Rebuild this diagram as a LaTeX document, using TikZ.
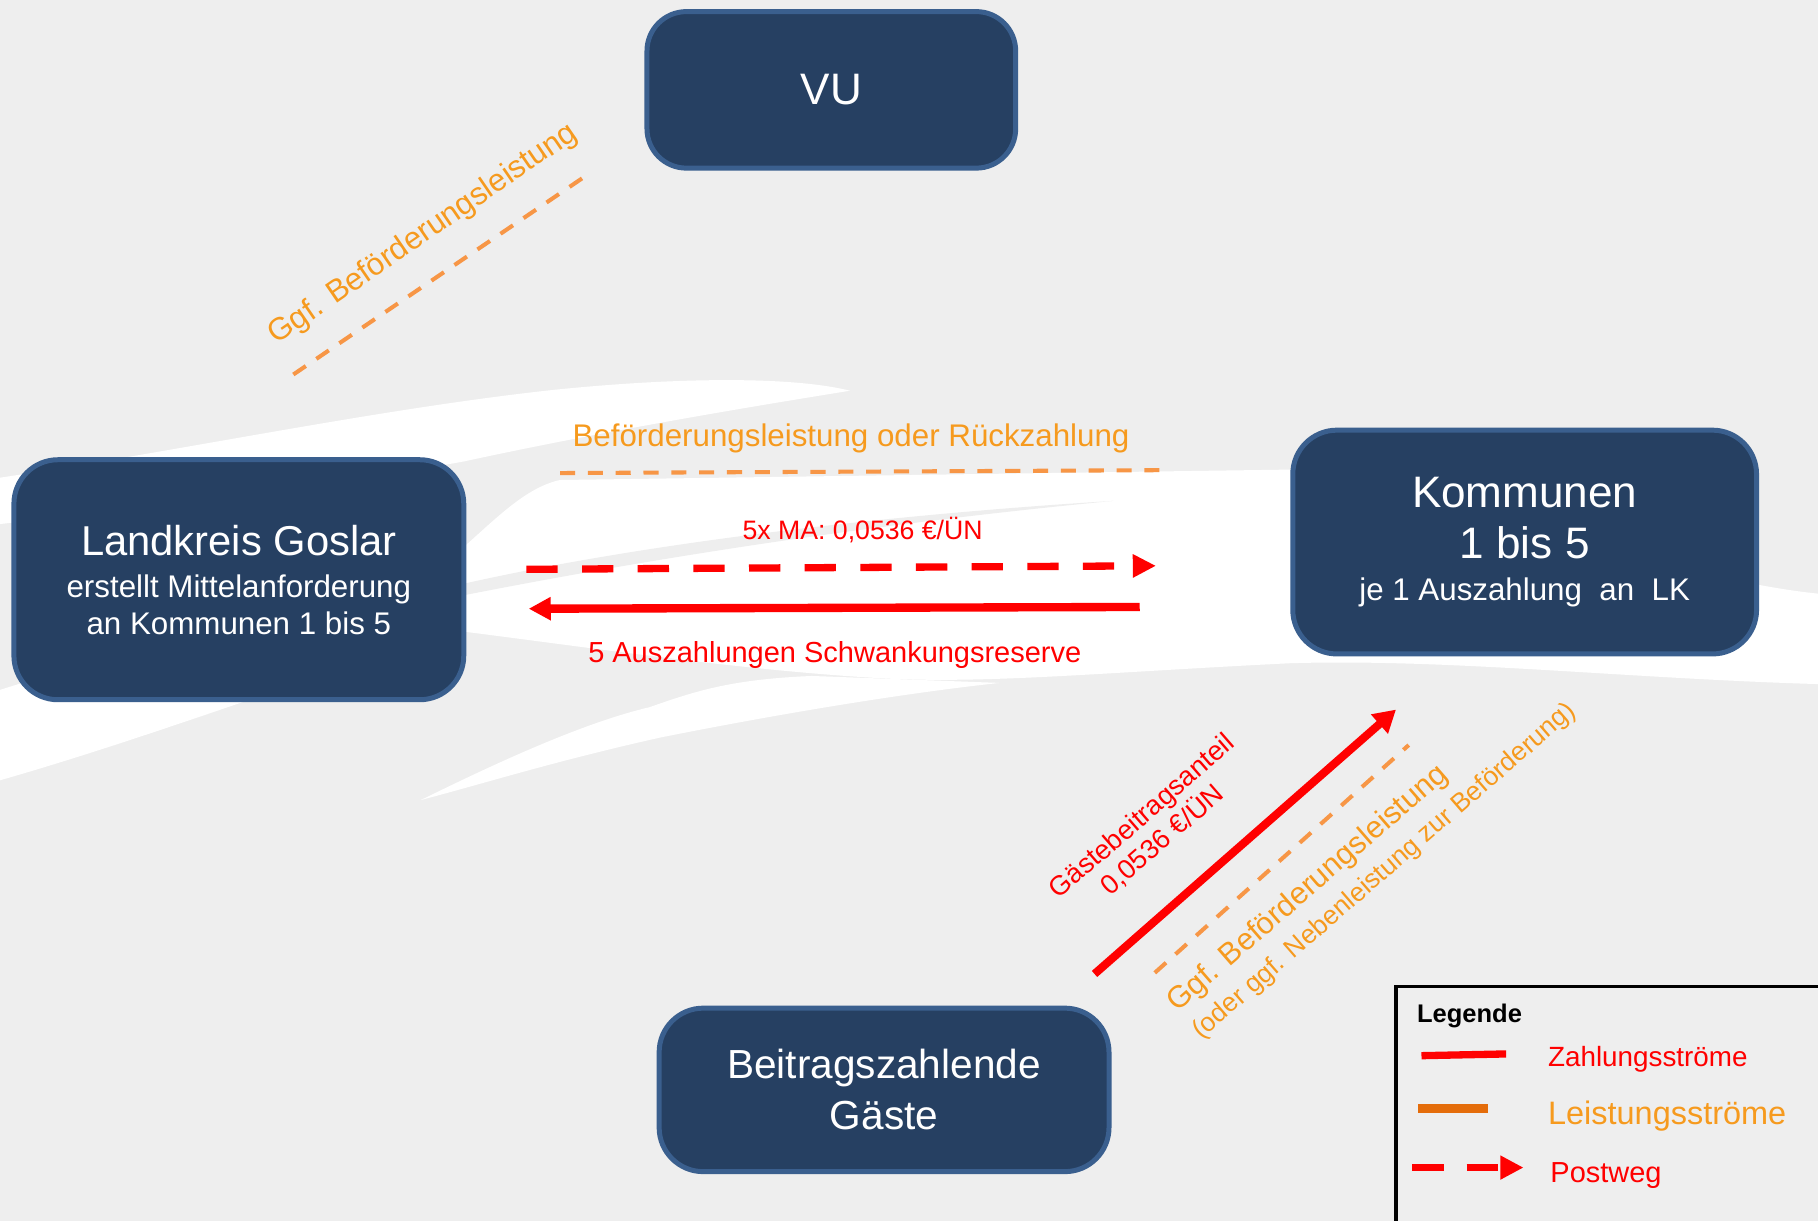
\documentclass[tikz,border=0pt]{standalone}
\usepackage{fontspec}
\setmainfont{Liberation Sans}
\usetikzlibrary{arrows.meta}

\definecolor{navy}{RGB}{38,64,98}
\definecolor{navyline}{RGB}{58,95,142}
\definecolor{bggray}{RGB}{238,238,238}
\definecolor{peach}{RGB}{247,150,70}
\definecolor{ltext}{RGB}{246,154,30}
\definecolor{legorange}{RGB}{228,108,10}
\newcommand{\fsz}[2]{\fontsize{#1pt}{#2pt}\selectfont}

\begin{document}
\begin{tikzpicture}
  [x=1pt,y=-1pt,
   box/.style={draw=navyline,line width=4.3pt,fill=navy,rounded corners=38pt,text=white,align=center,inner sep=0pt},
   pay/.style={red,line width=7pt},
   perf/.style={peach,line width=3.5pt,dash pattern=on 13pt off 11pt},
   post/.style={red,line width=6.3pt,dash pattern=on 27pt off 21pt},
   lbl/.style={inner sep=0pt}]
  \useasboundingbox (0,0) rectangle (1568,1053);
  \fill[bggray] (0,0) rectangle (1568,1053);

  % brush strokes in the background
  \fill[white] (0,412) .. controls (160,388) and (330,352) .. (480,336) .. controls (600,324) and (690,326) .. (733,337)
    .. controls (640,352) and (520,372) .. (400,398) .. controls (250,425) and (100,440) .. (0,452) -- cycle;
  \fill[white] (0,595) .. controls (150,548) and (300,500) .. (402,470) .. controls (430,445) and (455,420) .. (483,414)
    -- (1113,405) .. controls (1300,440) and (1450,500) .. (1568,512) -- (1568,590)
    .. controls (1400,585) and (1250,568) .. (1113,572) .. controls (950,580) and (850,590) .. (760,585)
    .. controls (640,578) and (520,560) .. (402,545) .. controls (300,570) and (150,630) .. (0,673) -- cycle;
  \fill[white] (363,690) .. controls (420,662) and (500,624) .. (560,610) .. controls (600,596) and (630,586) .. (700,583)
    -- (862,589) .. controls (760,600) and (640,622) .. (570,636) .. controls (480,656) and (420,675) .. (363,690) -- cycle;
  \fill[bggray] (402,503) .. controls (550,470) and (750,445) .. (960,432) .. controls (750,452) and (560,482) .. (402,513) -- cycle;

  % boxes
  \node[box,minimum width=318pt,minimum height=135pt,rounded corners=34pt,font=\fsz{38}{44}] (vu) at (717,77.5) {VU};
  \node[box,minimum width=388pt,minimum height=207pt,font=\fsz{27}{32}] (lk) at (206,500)
    {{\fsz{36}{36}Landkreis Goslar}\\[4pt]erstellt Mittelanforderung\\an Kommunen 1 bis 5};
  \node[box,minimum width=400pt,minimum height=193pt,font=\fsz{27}{36}] (kom) at (1315,467.5)
    {{\fsz{38}{38}Kommunen}\\[8pt]{\fsz{38}{38}1 bis 5}\\je 1 Auszahlung\ \ an\ \ LK};
  \node[box,minimum width=388pt,minimum height=141pt,font=\fsz{35}{44}] (gaeste) at (762.5,940)
    {Beitragszahlende\\Gäste};

  % flows
  \coordinate (vuA) at (253,323);   \coordinate (vuB) at (504,152.5);
  \coordinate (perfA) at (483,408); \coordinate (perfB) at (1005,405.5);
  \coordinate (postA) at (454,491); \coordinate (postB) at (997,488);
  \coordinate (payA) at (983,523.5); \coordinate (payB) at (456,525);
  \coordinate (gA) at (944,840);    \coordinate (gB) at (1204,612);
  \coordinate (gpA) at (996,839);   \coordinate (gpB) at (1215,642.6);

  \draw[perf] (vuA) -- (vuB);
  \draw[perf] (perfA) -- (perfB);
  \draw[post,-{Triangle[length=20pt,width=19pt]}] (postA) -- (postB);
  \draw[pay,line width=7.2pt,-{Triangle[length=19pt,width=19pt]}] (payA) -- (payB);
  \draw[pay,-{Triangle[length=19pt,width=21pt]}] (gA) -- (gB);
  \draw[perf] (gpA) -- (gpB);

  % labels
  \node[lbl,ltext,font=\fsz{27}{31},anchor=base,rotate=34.5] (vuLbl) at (369,208) {Ggf. Beförderungsleistung};
  \node[lbl,ltext,font=\fsz{27}{31},anchor=base] (perfLbl) at (734,385) {Beförderungsleistung oder Rückzahlung};
  \node[lbl,red,font=\fsz{23}{27},anchor=base] (postLbl) at (744,465) {5x MA: 0,0536 €/ÜN};
  \node[lbl,red,font=\fsz{25}{29},anchor=base] (payLbl) at (720,571) {5 Auszahlungen Schwankungsreserve};
  \node[lbl,red,font=\fsz{23.5}{27},align=center,rotate=41] (gLbl) at (994,714.5) {Gästebeitragsanteil\\0,0536 €/ÜN};
  \node[lbl,ltext,font=\fsz{22.8}{31},align=left,rotate=41] (gpLbl) at (1183,739)
    {{\fsz{26.5}{31}Ggf. Beförderungsleistung}\\(oder ggf. Nebenleistung zur Beförderung)};

  % legend
  \draw[black,line width=3pt] (1204,851) rectangle (1600,1090);
  \node[lbl,font=\bfseries\fsz{22}{26},anchor=base west] (legTitle) at (1222,882) {Legende};
  \coordinate (l1A) at (1226,910.5); \coordinate (l1B) at (1299,909);
  \coordinate (l2A) at (1223,956);   \coordinate (l2B) at (1283,956);
  \coordinate (l3A) at (1218,1007);  \coordinate (l3B) at (1314,1007);
  \draw[pay,line width=6.3pt] (l1A) -- (l1B);
  \draw[legorange,line width=7pt] (l2A) -- (l2B);
  \draw[post,line width=5.7pt,dash pattern=on 27pt off 20pt,-{Triangle[length=20pt,width=19.5pt]}] (l3A) -- (l3B);
  \node[lbl,red,font=\fsz{24}{28},anchor=base west] (l1Lbl) at (1335,920) {Zahlungsströme};
  \node[lbl,ltext,font=\fsz{28}{32},anchor=base west] (l2Lbl) at (1335,970) {Leistungsströme};
  \node[lbl,red,font=\fsz{25}{29},anchor=base west] (l3Lbl) at (1337,1020) {Postweg};
\end{tikzpicture}
\end{document}
